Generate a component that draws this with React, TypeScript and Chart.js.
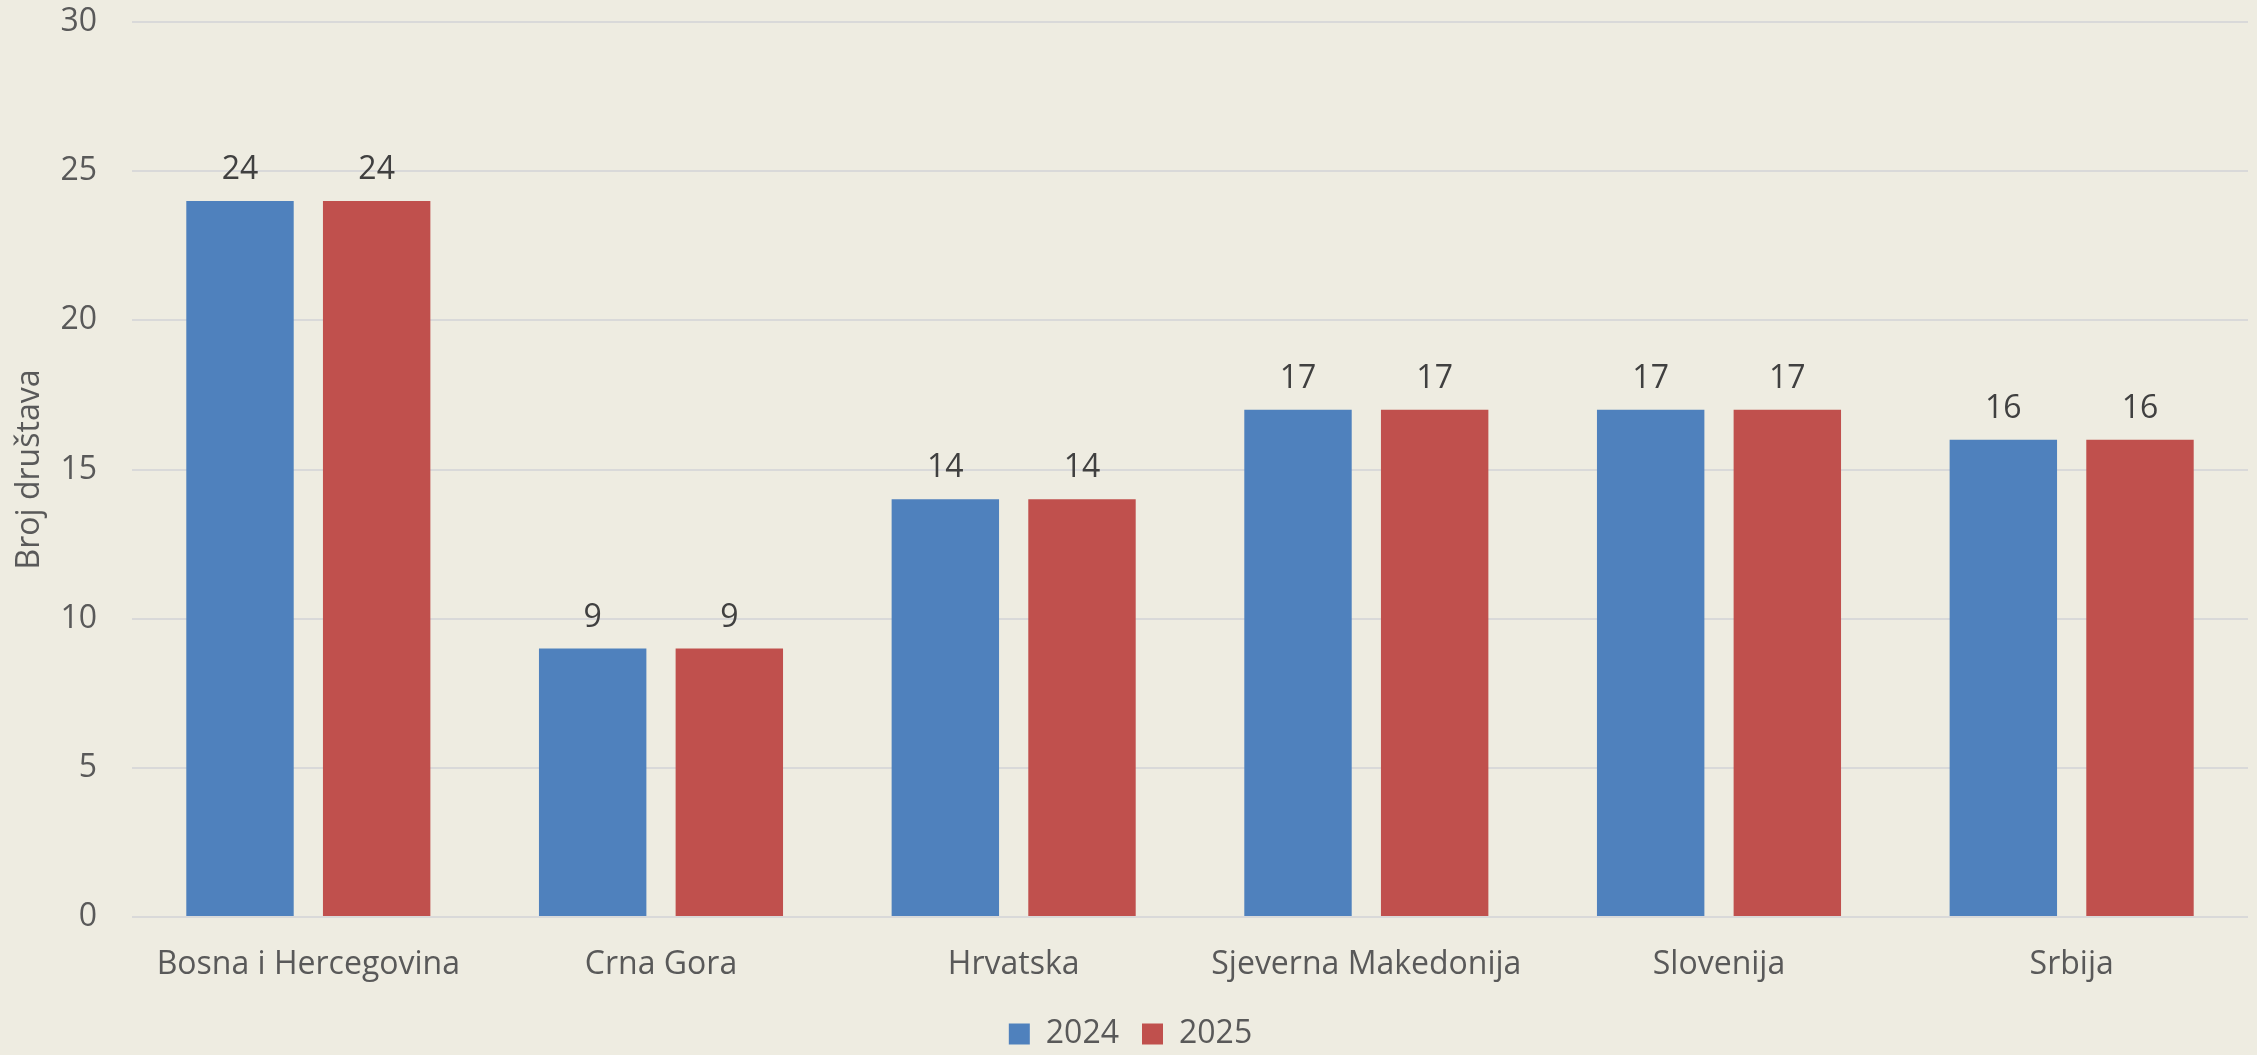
import React, { useEffect, useRef } from 'react';
import { Chart, registerables } from 'chart.js';

Chart.register(...registerables);

// ---- data ----
const categories = ['Bosna i Hercegovina', 'Crna Gora', 'Hrvatska', 'Sjeverna Makedonija', 'Slovenija', 'Srbija'];
const seriesNames = ['2024', '2025'];
const values2024 = [24, 9, 14, 17, 17, 16];
const values2025 = [24, 9, 14, 17, 17, 16];
const yMin = 0;
const yMax = 30;
const yStep = 5;
const yAxisTitle = 'Broj društava';

// ---- style ----
const W = 2257;
const H = 1055;
const BG = '#EEECE1';
const BLUE = '#4F81BD';
const RED = '#C0504D';
const AXIS_TEXT = '#595959';
const LABEL_TEXT = '#404040';
const GRID = '#D9D9D9';
const FONT_FAMILY = '"Open Sans", "Noto Sans", sans-serif';
const FONT_SIZE = 32;

const valueLabelPlugin = {
  id: 'valueLabels',
  afterDatasetsDraw(chart: any) {
    const ctx = chart.ctx;
    ctx.save();
    ctx.font = `${FONT_SIZE}px ${FONT_FAMILY}`;
    ctx.fillStyle = LABEL_TEXT;
    ctx.textAlign = 'center';
    ctx.textBaseline = 'alphabetic';
    chart.data.datasets.forEach((ds: any, di: number) => {
      const meta = chart.getDatasetMeta(di);
      meta.data.forEach((bar: any, i: number) => {
        ctx.fillText(String(ds.data[i]), bar.x, bar.y - 22);
      });
    });
    ctx.restore();
  },
};

// nudges the legend box after layout so it sits where the reference has it
const legendNudgePlugin = {
  id: 'legendNudge',
  afterLayout(chart: any) {
    const lg = chart.legend;
    if (!lg) return;
    const dx = 6.5;
    const dy = 5;
    lg.left += dx;
    lg.right += dx;
    lg.top += dy;
    lg.bottom += dy;
  },
};

export default function App() {
  const canvasRef = useRef<HTMLCanvasElement | null>(null);

  useEffect(() => {
    document.body.style.margin = '0';
    document.body.style.background = BG;
    const canvas = canvasRef.current;
    if (!canvas) return;
    const chart = new Chart(canvas, {
      type: 'bar',
      data: {
        labels: categories,
        datasets: [
          {
            label: seriesNames[0],
            data: values2024,
            backgroundColor: BLUE,
            borderWidth: 0,
            categoryPercentage: 0.775,
            barPercentage: 0.786,
          },
          {
            label: seriesNames[1],
            data: values2025,
            backgroundColor: RED,
            borderWidth: 0,
            categoryPercentage: 0.775,
            barPercentage: 0.786,
          },
        ],
      },
      options: {
        responsive: false,
        animation: false,
        devicePixelRatio: 1,
        layout: { padding: { top: 22, right: 9, left: 0, bottom: 0 } },
        scales: {
          x: {
            grid: { display: false, drawTicks: false },
            border: { display: false },
            ticks: {
              color: AXIS_TEXT,
              font: { family: FONT_FAMILY, size: FONT_SIZE },
              padding: 29,
              maxRotation: 0,
              autoSkip: false,
            },
            afterFit(scale: any) {
              scale.height = 73;
            },
          },
          y: {
            min: yMin,
            max: yMax,
            grid: { color: GRID, lineWidth: 2, drawTicks: false },
            border: { display: false },
            ticks: {
              stepSize: yStep,
              color: AXIS_TEXT,
              font: { family: FONT_FAMILY, size: FONT_SIZE },
              padding: 35,
            },
            title: {
              display: true,
              text: yAxisTitle,
              color: AXIS_TEXT,
              font: { family: FONT_FAMILY, size: FONT_SIZE },
              padding: { top: 11, bottom: 0 },
            },
            afterFit(scale: any) {
              scale.width = 132;
              scale.paddingTop = 0;
              scale.paddingBottom = 0;
            },
          },
        },
        plugins: {
          legend: {
            position: 'bottom',
            labels: {
              color: AXIS_TEXT,
              font: { family: FONT_FAMILY, size: FONT_SIZE },
              boxWidth: 21,
              boxHeight: 21,
              padding: 23,
            },
          },
          tooltip: { enabled: false },
        },
      },
      plugins: [valueLabelPlugin, legendNudgePlugin],
    } as any);
    return () => chart.destroy();
  }, []);

  return (
    <div style={{ position: 'fixed', left: 0, top: 0, width: W, height: H, background: BG }}>
      <canvas ref={canvasRef} width={W} height={H} style={{ display: 'block', width: W, height: H }} />
    </div>
  );
}
